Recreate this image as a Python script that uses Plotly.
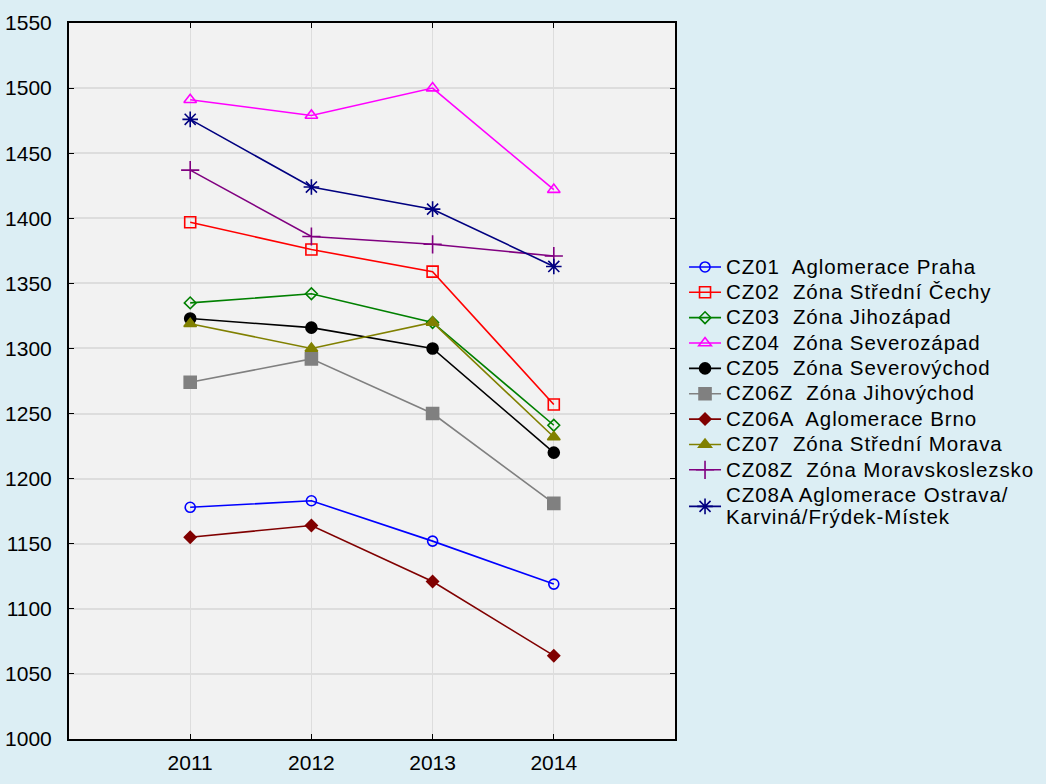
import plotly.graph_objects as go

years = [2011, 2012, 2013, 2014]
names = [
    "CZ01  Aglomerace Praha",
    "CZ02  Zóna Střední Čechy",
    "CZ03  Zóna Jihozápad",
    "CZ04  Zóna Severozápad",
    "CZ05  Zóna Severovýchod",
    "CZ06Z  Zóna Jihovýchod",
    "CZ06A  Aglomerace Brno",
    "CZ07  Zóna Střední Morava",
    "CZ08Z  Zóna Moravskoslezsko",
    "CZ08A Aglomerace Ostrava/<br>Karviná/Frýdek-Místek",
]
cz01 = [1178, 1183, 1152, 1119]
cz02 = [1397, 1376, 1359, 1257]
cz03 = [1335, 1342, 1320, 1241]
cz04 = [1491, 1479, 1500, 1422]
cz05 = [1323, 1316, 1300, 1220]
cz06z = [1274, 1292, 1250, 1181]
cz06a = [1155, 1164, 1121, 1064]
cz07 = [1319, 1300, 1320, 1232]
cz08z = [1437, 1386, 1380, 1371]
cz08a = [1476, 1424, 1407, 1363]
series = [cz01, cz02, cz03, cz04, cz05, cz06z, cz06a, cz07, cz08z, cz08a]

colors = ["#0000FF", "#FF0000", "#008000", "#FF00FF", "#000000",
          "#808080", "#800000", "#808000", "#800080", "#000080"]
symbols = ["circle-open", "square-open", "diamond-open", "triangle-up-open",
           "circle", "square", "diamond", "triangle-up", "cross-thin-open",
           "asterisk-open"]
sizes = [10, 11, 9, 11, 11, 12, 9, 11, 13, 13]


def styled(name):
    parts = name.split("<br>")
    return "<br>".join(
        '<span style="font-size:20.5px;letter-spacing:0.9px">' + p + "</span>"
        for p in parts)


fig = go.Figure()
for n, v, c, s, sz in zip(names, series, colors, symbols, sizes):
    fig.add_trace(go.Scatter(
        x=years, y=v, name=styled(n), mode="lines+markers",
        line=dict(color=c, width=1.6),
        marker=dict(symbol=s, size=sz, color=c, line=dict(color=c, width=1.6)),
    ))

fig.update_layout(
    width=1046, height=784,
    margin=dict(l=69, r=371, t=23, b=45, autoexpand=False),
    paper_bgcolor="#DCEEF4",
    plot_bgcolor="#F2F2F2",
    font=dict(family="Liberation Sans, Arial", size=21, color="#000000"),
    legend=dict(x=1.0149, y=0.684, xanchor="left", yanchor="top",
                bgcolor="rgba(0,0,0,0)", font=dict(size=17.2),
                tracegroupgap=0, itemwidth=32),
    showlegend=True,
)
fig.update_xaxes(range=[2010, 2015], tickvals=years, ticktext=[str(y) for y in years],
                 showline=True, linecolor="#000000", linewidth=2, mirror="ticks",
                 ticks="inside", ticklen=5, tickcolor="#000000",
                 showgrid=True, gridcolor="#DDDDDD", gridwidth=1, zeroline=False,
                 ticklabelstandoff=4, automargin=False)
fig.update_yaxes(range=[1000, 1550], dtick=50,
                 showline=True, linecolor="#000000", linewidth=2, mirror="ticks",
                 ticks="inside", ticklen=5, tickcolor="#000000",
                 showgrid=True, gridcolor="#DDDDDD", gridwidth=2, zeroline=False,
                 ticklabelstandoff=11, automargin=False)

fig.write_html("out.html", config={"displayModeBar": False},
               post_script="document.body.style.margin='0';document.body.style.background='#DCEEF4';")
